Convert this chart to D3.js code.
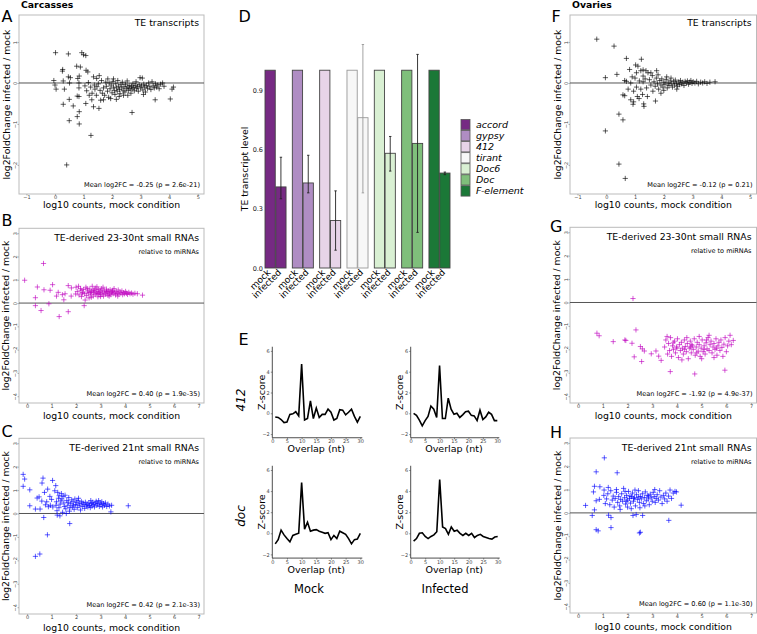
<!DOCTYPE html>
<html>
<head>
<meta charset="utf-8">
<script src="https://cdn.jsdelivr.net/npm/d3@7"></script>
<style>
  body { margin: 0; background: #fff; }
  svg { display: block; font-family: "DejaVu Sans", sans-serif; }
</style>
</head>
<body>
<svg id="fig" width="757" height="634"></svg>
<script>
// ---- scatter data: [log10 counts mock, log2FC infected/mock] ----
const carcTE = [
  [0.02,0.74],[0.47,0.71],[0.94,0.74],[1.0,0.69],[1.08,0.67],[0.27,0.33],[0.26,0.29],[0.76,0.41],[0.89,0.39],
  [1.09,0.31],[1.15,0.27],[0.47,0.15],[0.54,0.13],[0.85,0.17],[0.8,0.11],[1.46,0.11],[-0.04,0.06],[0.0,-0.05],
  [0.04,-0.15],[0.29,0.05],[0.33,-0.15],[0.51,0.0],[0.84,0.0],[0.84,-0.12],[1.05,-0.07],[1.11,-0.19],[1.17,0.01],
  [1.25,-0.1],[1.38,-0.05],[1.47,-0.09],[0.5,-0.4],[0.29,-0.52],[0.64,-0.56],[0.78,-0.32],[0.84,-0.33],[0.78,-0.82],
  [0.85,-0.7],[0.5,-0.92],[0.85,-1.0],[1.26,-1.28],[0.41,-2.0],[1.08,-0.5],[1.29,-0.41],[1.35,-0.58],[1.54,-0.62],
  [1.7,-0.41],[2.7,-0.72],[3.51,-0.41],[4.04,-0.39],[4.15,-0.1],[4.1,-0.15],[1.6,-0.42],[1.95,-0.38],[2.25,-0.33],
  [2.4,-0.3],[1.45,-0.3],[1.3,-0.25],[1.35,0.15],[1.55,0.18],[1.4,-0.15],[1.2,-0.3],[2.15,-0.4],[3.1,-0.28],
  [2.55,-0.3],[1.85,0.1],[2.05,0.1],[1.52,-0.02],[1.58,-0.18],[1.63,0.06],[1.66,-0.25],[1.7,-0.12],[1.74,-0.3],
  [1.78,0.02],[1.8,-0.08],[1.84,-0.2],[1.88,-0.35],[1.9,0.0],[1.93,-0.14],[1.97,-0.05],[2.0,-0.24],[2.03,0.04],
  [2.05,-0.1],[2.08,-0.18],[2.1,-0.28],[2.13,-0.02],[2.16,-0.12],[2.18,-0.2],[2.2,0.06],[2.23,-0.08],[2.26,-0.16],
  [2.28,-0.26],[2.31,-0.04],[2.34,-0.12],[2.36,0.02],[2.39,-0.19],[2.42,-0.09],[2.45,-0.22],[2.47,-0.03],[2.5,-0.14],
  [2.53,0.05],[2.55,-0.1],[2.58,-0.18],[2.6,-0.06],[2.63,-0.13],[2.66,-0.25],[2.68,-0.08],[2.7,-0.15],[2.73,-0.02],
  [2.76,-0.11],[2.78,-0.19],[2.81,-0.06],[2.84,0.03],[2.86,-0.14],[2.89,-0.09],[2.92,-0.2],[2.95,-0.04],[2.98,0.13],
  [3.0,-0.12],[3.03,-0.07],[3.06,0.12],[3.08,-0.17],[3.11,-0.03],[3.14,-0.1],[3.17,-0.22],[3.2,-0.06],[3.24,-0.13],
  [3.28,0.0],[3.32,-0.09],[3.36,-0.16],[3.4,0.03],[3.44,-0.07],[3.48,-0.12],[3.52,-0.02],[3.56,-0.1],[3.6,-0.05],
  [3.65,-0.14],[3.7,-0.03],[3.77,0.0],[3.82,-0.08]
];
const carcPi = [
  [-0.1,0.98],[0.67,1.7],[0.42,0.69],[0.34,0.23],[0.34,-0.11],[0.57,-0.32],[0.69,0.57],[0.94,0.55],[0.89,-0.03],
  [1.04,0.79],[1.27,0.46],[1.31,-0.58],[1.44,0.36],[1.5,0.14],[1.68,-0.37],[1.68,0.75],[1.81,0.65],[1.98,0.39],
  [2.33,-0.11],[2.37,0.13],[1.55,0.4],[1.2,0.3],[2.0,0.68],[1.8,0.3],[2.1,0.72],[2.2,0.55],[2.05,0.5],[2.12,0.35],
  [2.18,0.62],[2.22,0.28],[2.27,0.45],[2.3,0.58],[2.35,0.4],[2.4,0.68],[2.43,0.32],[2.47,0.52],[2.5,0.44],[2.53,0.22],
  [2.56,0.6],[2.6,0.38],[2.63,0.5],[2.66,0.72],[2.7,0.3],[2.72,0.46],[2.75,0.56],[2.78,0.38],[2.8,0.64],[2.83,0.42],
  [2.86,0.5],[2.89,0.27],[2.92,0.58],[2.95,0.45],[2.98,0.36],[3.0,0.52],[3.03,0.62],[3.06,0.4],[3.09,0.48],[3.12,0.3],
  [3.15,0.55],[3.18,0.43],[3.21,0.38],[3.24,0.6],[3.27,0.47],[3.3,0.33],[3.33,0.52],[3.36,0.42],[3.39,0.57],[3.42,0.36],
  [3.45,0.46],[3.48,0.5],[3.51,0.4],[3.55,0.62],[3.58,0.44],[3.61,0.35],[3.64,0.5],[3.68,0.42],[3.72,0.56],[3.75,0.38],
  [3.79,0.47],[3.83,0.43],[3.87,0.52],[3.9,0.36],[3.94,0.45],[3.98,0.4],[4.02,0.5],[4.06,0.42],[4.1,0.37],[4.15,0.46],
  [4.2,0.4],[4.26,0.43],[4.32,0.38],[4.4,0.42],[4.5,0.4],[4.71,0.34],[2.58,0.45],[2.9,0.4],[3.1,0.68],[2.45,0.62],
  [2.7,0.55],[3.35,0.3],[3.0,0.28],[2.25,0.42],[2.85,0.7],[3.5,0.55],[3.7,0.3],[2.62,0.25],[3.25,0.5]
];
const carcSi = [
  [-0.16,1.67],[-0.1,1.47],[-0.16,1.16],[0.11,1.01],[0.11,0.33],[0.34,0.19],[0.41,0.66],[0.49,0.71],[0.6,0.53],
  [0.61,1.3],[0.65,1.51],[0.71,0.9],[0.75,0.37],[0.68,-0.17],[0.53,0.19],[0.84,1.04],[0.93,0.73],[0.87,0.29],
  [0.83,-0.91],[0.34,-1.83],[0.52,-1.73],[1.04,1.41],[1.17,1.19],[1.13,0.97],[1.23,-0.07],[1.34,-0.1],[1.74,-0.43],
  [1.31,0.76],[1.47,0.73],[1.38,0.54],[0.8,0.5],[1.0,0.6],[0.95,0.35],[1.25,0.9],[1.2,0.5],[1.3,0.25],[1.42,0.62],
  [1.5,0.45],[1.55,0.78],[1.58,0.2],[1.62,0.55],[1.66,0.35],[1.7,0.68],[1.73,0.1],[1.78,0.42],[1.82,0.58],[1.85,0.28],
  [1.88,0.5],[1.92,0.18],[1.95,0.62],[1.98,0.38],[2.02,0.48],[2.05,0.25],[2.08,0.55],[2.12,0.35],[2.15,0.42],[2.18,0.15],
  [2.22,0.5],[2.25,0.3],[2.28,0.45],[2.32,0.38],[2.35,0.22],[2.38,0.48],[2.42,0.33],[2.45,0.4],[2.48,0.28],[2.52,0.45],
  [2.55,0.35],[2.58,0.25],[2.62,0.42],[2.65,0.32],[2.68,0.48],[2.72,0.38],[2.75,0.28],[2.78,0.45],[2.82,0.52],[2.85,0.35],
  [2.88,0.42],[2.92,0.55],[2.95,0.3],[2.98,0.45],[3.02,0.38],[3.05,0.5],[3.08,0.28],[3.12,0.42],[3.16,0.35],[3.2,0.45],
  [3.25,0.3],[3.3,0.4],[3.36,0.32],[3.42,0.07],[3.45,0.35],[4.13,0.33],[1.45,0.05],[1.6,0.0],[1.35,0.4],[1.52,0.3],
  [1.68,0.48],[1.9,0.35],[2.1,0.65],[1.75,0.25],[1.28,0.65],[1.18,0.35],[1.22,0.12],[2.6,0.55],[1.05,0.28],[1.4,0.85]
];
const ovTE = [
  [-0.33,1.07],[0.27,0.9],[-0.03,0.13],[0.37,0.21],[-0.03,-1.17],[0.44,-0.76],[0.58,-0.9],[0.44,-1.98],[0.66,-2.33],
  [0.7,0.6],[1.22,0.58],[1.02,0.44],[1.1,0.41],[0.81,0.33],[1.28,0.32],[1.38,0.3],[0.64,0.06],[0.7,0.04],[0.58,-0.29],
  [0.64,-0.31],[0.76,-0.15],[0.85,-0.41],[0.93,-0.52],[0.95,-0.46],[1.08,-0.33],[1.14,-0.38],[1.3,-0.51],[1.31,-0.57],
  [1.43,-0.33],[1.26,-0.28],[1.71,-0.44],[1.28,0.17],[1.45,0.25],[1.28,0.03],[0.9,0.15],[1.0,0.12],[1.05,-0.1],
  [0.95,-0.2],[1.15,0.05],[1.2,-0.15],[1.35,0.1],[1.4,-0.12],[1.5,0.08],[1.55,-0.05],[1.6,0.18],[1.62,-0.2],[1.66,0.03],
  [1.7,-0.08],[1.74,0.12],[1.78,-0.02],[1.82,-0.15],[1.86,0.06],[1.9,-0.05],[1.93,0.1],[1.97,-0.1],[2.0,0.02],[2.04,-0.03],
  [2.08,0.08],[2.12,-0.12],[2.15,0.0],[2.18,-0.06],[2.22,0.05],[2.26,-0.02],[2.3,-0.1],[2.34,0.04],[2.37,-0.05],[2.4,0.07],
  [2.44,-0.01],[2.48,-0.08],[2.52,0.03],[2.55,-0.04],[2.58,0.06],[2.62,-0.02],[2.66,0.02],[2.7,-0.06],[2.74,0.04],[2.78,0.0],
  [2.82,0.05],[2.86,-0.03],[2.9,0.02],[2.94,0.06],[2.98,-0.01],[3.02,0.03],[3.08,0.0],[3.14,0.04],[3.2,-0.02],[3.28,0.02],
  [3.35,0.0],[3.42,0.03],[3.5,-0.01],[3.6,0.02],[3.78,0.03],[1.75,0.3],[1.55,0.25],[1.2,0.3],[1.9,-0.25],[2.1,0.15],
  [1.8,0.2],[2.0,-0.18],[2.45,-0.15],[2.25,0.12],[1.05,0.25],[0.85,0.0]
];
const ovPi = [
  [2.22,0.17],[0.76,-1.31],[0.85,-1.42],[1.42,-1.67],[1.89,-1.6],[1.93,-1.62],[2.18,-1.74],[2.34,-1.17],[2.27,-2.32],
  [2.52,-1.88],[2.6,-1.98],[2.57,-2.52],[2.68,-2.07],[2.96,-2.19],[3.15,-2.07],[3.26,-2.29],[3.36,-2.47],[3.73,-2.95],
  [4.72,-3.05],[5.94,-2.89],[3.5,-1.9],[3.55,-1.6],[3.62,-2.2],[3.66,-1.75],[3.7,-2.05],[3.74,-1.5],[3.78,-2.3],
  [3.82,-1.85],[3.86,-2.0],[3.9,-1.65],[3.94,-2.15],[3.98,-1.9],[4.02,-1.55],[4.06,-2.35],[4.1,-1.8],[4.14,-2.05],
  [4.18,-1.7],[4.22,-1.95],[4.26,-2.2],[4.3,-1.6],[4.34,-1.88],[4.38,-2.1],[4.42,-1.75],[4.46,-2.4],[4.5,-1.95],
  [4.54,-1.65],[4.58,-2.15],[4.62,-1.85],[4.66,-2.0],[4.7,-1.55],[4.74,-2.25],[4.78,-1.9],[4.82,-1.7],[4.86,-2.08],
  [4.9,-1.8],[4.94,-2.3],[4.98,-1.95],[5.02,-1.6],[5.06,-2.1],[5.1,-1.85],[5.14,-2.2],[5.18,-1.72],[5.22,-1.98],
  [5.26,-1.5],[5.3,-2.05],[5.34,-1.8],[5.38,-1.65],[5.42,-2.15],[5.46,-1.9],[5.5,-1.75],[5.54,-2.0],[5.58,-1.55],
  [5.62,-2.25],[5.66,-1.85],[5.7,-1.7],[5.74,-2.05],[5.78,-1.6],[5.82,-1.92],[5.86,-2.3],[5.9,-1.78],[5.95,-1.5],
  [6.0,-2.1],[6.05,-1.85],[6.1,-1.65],[6.15,-1.4],[6.2,-1.8],[6.28,-1.62],[4.4,-1.5],[4.9,-1.45],[5.3,-1.4],[4.2,-2.45],
  [5.0,-2.4],[5.5,-2.35],[3.6,-1.45],[4.6,-1.8],[4.8,-2.15],[5.2,-1.6],[4.0,-1.95],[4.3,-2.0],[5.6,-1.95],[4.55,-1.9],
  [5.1,-2.0],[3.85,-1.72]
];
const ovSi = [
  [1.06,2.36],[0.73,1.76],[1.58,1.72],[0.3,0.32],[0.57,-0.11],[0.66,0.13],[0.73,-0.72],[0.81,-0.77],[1.33,-0.63],
  [1.23,-0.1],[1.33,-0.2],[2.48,-0.86],[2.52,-0.83],[2.22,-0.11],[2.35,-0.07],[2.61,-0.11],[3.67,-0.32],[4.17,0.33],
  [0.66,1.14],[0.88,1.12],[1.05,0.98],[0.62,0.9],[0.73,0.52],[0.86,0.58],[1.1,0.4],[1.04,0.75],[1.22,1.09],[1.15,0.6],
  [1.2,0.82],[1.28,0.35],[1.32,0.95],[1.38,0.55],[1.42,0.72],[1.46,0.25],[1.5,0.62],[1.55,0.88],[1.6,0.45],[1.64,0.7],
  [1.68,0.3],[1.72,0.58],[1.76,0.82],[1.8,0.5],[1.84,1.05],[1.88,0.65],[1.92,0.38],[1.96,0.75],[2.0,0.55],[2.04,0.92],
  [2.08,0.62],[2.12,0.42],[2.16,0.7],[2.2,0.85],[2.24,0.5],[2.28,0.65],[2.32,0.3],[2.36,0.78],[2.4,0.58],[2.44,0.95],
  [2.48,0.45],[2.52,0.7],[2.56,0.6],[2.6,0.82],[2.64,0.4],[2.68,0.66],[2.72,0.9],[2.76,0.52],[2.8,0.75],[2.84,0.6],
  [2.88,0.35],[2.92,0.8],[2.96,0.65],[3.0,0.5],[3.04,0.88],[3.08,0.7],[3.12,0.45],[3.16,0.62],[3.2,0.78],[3.25,0.55],
  [3.3,0.95],[3.35,0.68],[3.4,0.4],[3.45,0.75],[3.5,0.6],[3.55,0.85],[3.6,0.5],[3.66,0.72],[3.72,0.98],[3.78,0.62],
  [3.85,0.85],[3.92,0.92],[3.98,0.9],[2.15,0.18],[2.5,0.22],[1.7,0.15],[1.9,0.92],[2.3,0.98],[2.0,0.25],[2.7,0.3],
  [1.55,1.0],[3.1,1.0],[2.45,0.68],[2.1,0.72],[2.25,0.62],[1.95,0.5],[2.85,0.72]
];

// ---- panel D: TE transcript level ----
const teNames = ['accord', 'gypsy', '412', 'tirant', 'Doc6', 'Doc', 'F-element'];
const teColors = ['#762a83', '#af8dc3', '#e7d4e8', '#f7f7f7', '#d9f0d3', '#7fbf7b', '#1b7837'];
const conditions = ['mock', 'infected'];
const mockLevel = [1, 1, 1, 1, 1, 1, 1];
const infectedLevel = [0.41, 0.43, 0.24, 0.76, 0.58, 0.63, 0.48];
const infectedLow = [0.35, 0.38, 0.09, 0.38, 0.49, 0.18, 0.472];
const infectedHigh = [0.56, 0.57, 0.39, 1.13, 0.665, 1.08, 0.485];
const levelTicks = [0, 0.3, 0.6, 0.9];

// ---- panel E: ping-pong overlap z-scores ----
const overlapNt = [1,2,3,4,5,6,7,8,9,10,11,12,13,14,15,16,17,18,19,20,21,22,23,24,25,26,27,28,29,30];
const z412Mock = [-0.35,-0.4,-0.6,-0.9,-0.85,-0.1,-0.05,0.15,-0.25,4.73,-0.65,-0.5,1.2,-0.5,0.5,-0.4,-0.1,-0.1,0.4,0.1,-0.65,-0.5,0.35,0.3,-0.15,0.1,0.4,-0.3,-0.85,-0.3];
const z412Inf = [0,-0.2,-0.65,-1.2,-0.7,-0.3,0.7,0.4,-0.4,4.6,-0.5,-0.5,1.45,0.4,-0.1,0,-0.4,-0.15,0.15,0.2,-0.2,-0.25,-0.7,0.3,-0.6,-0.35,0.1,-0.1,-0.7,-0.7];
const zDocMock = [-1.0,-0.6,0.3,-0.15,-0.5,-0.8,-0.2,-0.1,0,4.8,0.4,1.05,0.2,0.3,0.35,0.2,0.1,0,0.05,-0.6,-0.2,-0.5,0.2,0.05,-0.1,-0.5,-1.0,-0.6,-0.55,0];
const zDocInf = [-0.75,-0.5,0,0.05,-0.3,-0.5,-0.3,-0.15,0.15,5.1,0.6,0.45,-0.1,0.6,0.2,0.3,0,-0.2,0,-0.2,0,-0.4,-0.2,-0.1,-0.3,-0.4,-0.5,-0.55,-0.35,-0.3];
const zTicks = [-2, 0, 2, 4, 6];
const overlapTicks = [0, 5, 10, 15, 20, 25, 30];

const svg = d3.select('#fig');

const addText = (x, y, str, size, opts = {}) =>
  svg
    .append('text')
    .attr('x', x)
    .attr('y', y)
    .attr('text-anchor', opts.anchor || 'start')
    .attr('font-size', size)
    .attr('font-weight', opts.weight || 'normal')
    .attr('font-style', opts.style || 'normal')
    .attr('fill', opts.fill || '#000')
    .attr('transform', opts.rotate ? `rotate(${opts.rotate},${x},${y})` : null)
    .text(str);

// ---------- scatter panels ----------
const scatterPanel = (p) => {
  const x = d3.scaleLinear().domain(p.xDomain).range([p.left, p.right]);
  const y = d3.scaleLinear().domain(p.yDomain).range([p.bottom, p.top]);
  const g = svg.append('g');

  g.append('rect')
    .attr('x', p.left)
    .attr('y', p.top)
    .attr('width', p.right - p.left)
    .attr('height', p.bottom - p.top)
    .attr('fill', 'none')
    .attr('stroke', '#bbb')
    .attr('stroke-width', 1);

  const xAxis = d3.axisBottom(x).tickValues(p.xTicks).tickSize(1.5).tickPadding(0.3).tickFormat(d3.format('d'));
  g.append('g')
    .attr('transform', `translate(0,${p.bottom})`)
    .call(xAxis)
    .call((a) => {
      a.select('.domain').remove();
      a.selectAll('line').attr('stroke', '#888').attr('stroke-width', 0.6);
      a.selectAll('text').attr('font-size', 5).attr('fill', '#444').attr('font-family', 'DejaVu Sans');
    });

  const yAxis = d3.axisLeft(y).tickValues(p.yTicks).tickSize(1.5).tickFormat(d3.format('d'));
  g.append('g')
    .attr('transform', `translate(${p.left},0)`)
    .call(yAxis)
    .call((a) => {
      a.select('.domain').remove();
      a.selectAll('line').attr('stroke', '#888').attr('stroke-width', 0.6);
      a.selectAll('text')
        .attr('x', 0)
        .attr('dy', 0)
        .attr('text-anchor', 'middle')
        .attr('transform', 'translate(-1.6,0) rotate(-90)')
        .attr('font-size', 5)
        .attr('fill', '#444')
        .attr('font-family', 'DejaVu Sans');
    });

  g.append('line')
    .attr('x1', p.left)
    .attr('x2', p.right)
    .attr('y1', y(0))
    .attr('y2', y(0))
    .attr('stroke', '#555')
    .attr('stroke-width', 1);

  g.selectAll('path.pt')
    .data(p.data)
    .join('path')
    .attr('class', 'pt')
    .attr('d', 'M-2.6,0H2.6M0,-2.6V2.6')
    .attr('transform', (d) => `translate(${x(d[0])},${y(d[1])})`)
    .attr('stroke', p.color)
    .attr('stroke-opacity', p.alpha)
    .attr('stroke-width', 0.9)
    .attr('fill', 'none');

  addText(p.right - 5, p.top + p.titleDy, p.title, 9.3, { anchor: 'end' });
  if (p.sub) addText(p.right - 5, p.top + 26, p.sub, 6.5, { anchor: 'end' });
  addText(p.right - 4, p.bottom - 7, p.mean, 6.6, { anchor: 'end' });

  addText((p.left + p.right) / 2, p.bottom + p.xlabDy, 'log10 counts, mock condition', 9.3, { anchor: 'middle' });
  addText(p.ylabX, (p.top + p.bottom) / 2, 'log2FoldChange infected / mock', 9.3, { anchor: 'middle', rotate: -90 });
  addText(p.letterX, p.letterY, p.letter, 16);
};

const teDomainX = [-1.26, 5.22];
const teDomainY = [-2.71, 1.66];
const srDomainX = [-0.33, 7.22];
const srDomainY = [-4.29, 3.21];

scatterPanel({ left: 19, right: 204, top: 15, bottom: 194, xDomain: teDomainX, yDomain: teDomainY,
  xTicks: [-1, 0, 1, 2, 3, 4, 5], yTicks: [1, 0, -1, -2], data: carcTE, color: '#000', alpha: 0.7,
  title: 'TE transcripts', titleDy: 10.5, mean: 'Mean log2FC = -0.25 (p = 2.6e-21)',
  xlabDy: 14.3, ylabX: 9.5, letter: 'A', letterX: 1.5, letterY: 21.7 });
scatterPanel({ left: 19, right: 204, top: 228.3, bottom: 403, xDomain: srDomainX, yDomain: srDomainY,
  xTicks: [0, 1, 2, 3, 4, 5, 6, 7], yTicks: [3, 2, 1, 0, -1, -2, -3, -4], data: carcPi, color: '#bf00bf', alpha: 0.7,
  title: 'TE-derived 23-30nt small RNAs', titleDy: 13, sub: 'relative to miRNAs', mean: 'Mean log2FC = 0.40 (p = 1.9e-35)',
  xlabDy: 16.3, ylabX: 9.5, letter: 'B', letterX: 1.5, letterY: 226 });
scatterPanel({ left: 19, right: 204, top: 438.3, bottom: 614, xDomain: srDomainX, yDomain: srDomainY,
  xTicks: [0, 1, 2, 3, 4, 5, 6, 7], yTicks: [3, 2, 1, 0, -1, -2, -3, -4], data: carcSi, color: '#0000ff', alpha: 0.7,
  title: 'TE-derived 21nt small RNAs', titleDy: 13, sub: 'relative to miRNAs', mean: 'Mean log2FC = 0.42 (p = 2.1e-33)',
  xlabDy: 17, ylabX: 9.5, letter: 'C', letterX: 1.5, letterY: 436.7 });
scatterPanel({ left: 570, right: 756.5, top: 15, bottom: 194, xDomain: teDomainX, yDomain: teDomainY,
  xTicks: [-1, 0, 1, 2, 3, 4, 5], yTicks: [1, 0, -1, -2], data: ovTE, color: '#000', alpha: 0.7,
  title: 'TE transcripts', titleDy: 10.5, mean: 'Mean log2FC = -0.12 (p = 0.21)',
  xlabDy: 14.3, ylabX: 560.5, letter: 'F', letterX: 551.5, letterY: 21.7 });
scatterPanel({ left: 570, right: 756.5, top: 227.3, bottom: 403, xDomain: srDomainX, yDomain: srDomainY,
  xTicks: [0, 1, 2, 3, 4, 5, 6, 7], yTicks: [3, 2, 1, 0, -1, -2, -3, -4], data: ovPi, color: '#bf00bf', alpha: 0.7,
  title: 'TE-derived 23-30nt small RNAs', titleDy: 13, sub: 'relative to miRNAs', mean: 'Mean log2FC = -1.92 (p = 4.9e-37)',
  xlabDy: 16.3, ylabX: 560.5, letter: 'G', letterX: 550, letterY: 231.7 });
scatterPanel({ left: 570, right: 756.5, top: 438, bottom: 613, xDomain: srDomainX, yDomain: srDomainY,
  xTicks: [0, 1, 2, 3, 4, 5, 6, 7], yTicks: [3, 2, 1, 0, -1, -2, -3, -4], data: ovSi, color: '#0000ff', alpha: 0.7,
  title: 'TE-derived 21nt small RNAs', titleDy: 13, sub: 'relative to miRNAs', mean: 'Mean log2FC = 0.60 (p = 1.1e-30)',
  xlabDy: 17, ylabX: 560.5, letter: 'H', letterX: 550, letterY: 438.3 });

addText(21, 8, 'Carcasses', 9.3, { weight: 'bold' });
addText(572, 8, 'Ovaries', 9.3, { weight: 'bold' });

// ---------- panel D ----------
const dGroup = d3.scaleBand().domain(teNames).range([265, 450]).paddingInner(0.23);
const dSub = d3.scaleBand().domain(conditions).range([0, dGroup.bandwidth()]).paddingInner(0.05);
const dY = d3.scaleLinear().domain([0, 0.9]).range([268, 90]);

const dRows = [];
teNames.forEach((te, i) => {
  dRows.push({ te, cond: 'mock', v: mockLevel[i], color: teColors[i] });
  dRows.push({ te, cond: 'infected', v: infectedLevel[i], lo: infectedLow[i], hi: infectedHigh[i], color: teColors[i] });
});

const dg = svg.append('g');
dg.selectAll('rect.bar')
  .data(dRows)
  .join('rect')
  .attr('class', 'bar')
  .attr('x', (d) => dGroup(d.te) + dSub(d.cond))
  .attr('y', (d) => dY(d.v))
  .attr('width', dSub.bandwidth())
  .attr('height', (d) => dY(0) - dY(d.v))
  .attr('fill', (d) => d.color)
  .attr('stroke', (d) => (d.te === 'tirant' ? '#999' : '#444'))
  .attr('stroke-width', 0.9);

const errRows = dRows.filter((d) => d.cond === 'infected');
const errX = (d) => dGroup(d.te) + dSub('infected') + dSub.bandwidth() / 2;
const errColor = (d) => (d.te === 'tirant' ? '#999' : '#222');
dg.selectAll('line.err')
  .data(errRows)
  .join('line')
  .attr('class', 'err')
  .attr('x1', errX)
  .attr('x2', errX)
  .attr('y1', (d) => dY(d.lo))
  .attr('y2', (d) => dY(d.hi))
  .attr('stroke', errColor)
  .attr('stroke-width', 0.9);
['lo', 'hi'].forEach((k) => {
  dg.selectAll(`line.cap-${k}`)
    .data(errRows)
    .join('line')
    .attr('class', `cap-${k}`)
    .attr('x1', (d) => errX(d) - 1.2)
    .attr('x2', (d) => errX(d) + 1.2)
    .attr('y1', (d) => dY(d[k]))
    .attr('y2', (d) => dY(d[k]))
    .attr('stroke', errColor)
    .attr('stroke-width', 0.9);
});

const dAxis = d3.axisLeft(dY).tickValues(levelTicks).tickSize(0).tickPadding(0).tickFormat(d3.format('.1f'));
dg.append('g')
  .attr('transform', 'translate(263,0)')
  .call(dAxis)
  .call((a) => {
    a.select('.domain').remove();
    a.selectAll('text').attr('font-size', 6.5).attr('fill', '#222').attr('font-family', 'DejaVu Sans');
  });

dRows.forEach((d) => {
  const cx = dGroup(d.te) + dSub(d.cond) + dSub.bandwidth() / 2 + 1;
  addText(cx, 273, d.cond, 9, { anchor: 'end', rotate: -45 });
});

addText(247.5, 169, 'TE transcript level', 9.3, { anchor: 'middle', rotate: -90 });
addText(238.5, 22, 'D', 16);

const legend = dg.append('g').attr('transform', 'translate(461,119.5)');
legend.selectAll('rect')
  .data(teNames)
  .join('rect')
  .attr('x', 0)
  .attr('y', (d, i) => i * 11.05)
  .attr('width', 9)
  .attr('height', 10.3)
  .attr('fill', (d, i) => teColors[i])
  .attr('stroke', '#555')
  .attr('stroke-width', 0.8);
legend.selectAll('text')
  .data(teNames)
  .join('text')
  .attr('x', 15)
  .attr('y', (d, i) => i * 11.05 + 8.6)
  .attr('font-size', 9.5)
  .attr('font-style', 'italic')
  .text((d) => d);

// ---------- panel E ----------
const zPanel = (xL, xR, yZero, unit, vals) => {
  const x = d3.scaleLinear().domain([0, 30]).range([xL, xR]);
  const y = d3.scaleLinear().domain([0, 6]).range([yZero, yZero - 6 * unit]);
  const g = svg.append('g');
  const yBot = y(-2.35);
  g.append('line').attr('x1', xL).attr('x2', xL).attr('y1', y(6.4)).attr('y2', yBot).attr('stroke', '#222').attr('stroke-width', 0.8);
  g.append('line').attr('x1', xL).attr('x2', xR + 2).attr('y1', yBot).attr('y2', yBot).attr('stroke', '#222').attr('stroke-width', 0.8);

  g.append('g')
    .attr('transform', `translate(0,${yBot})`)
    .call(d3.axisBottom(x).tickValues(overlapTicks).tickSize(1.5).tickPadding(0.5))
    .call((a) => {
      a.select('.domain').remove();
      a.selectAll('line').attr('stroke', '#444').attr('stroke-width', 0.6);
      a.selectAll('text').attr('font-size', 5).attr('fill', '#444').attr('font-family', 'DejaVu Sans');
    });
  g.append('g')
    .attr('transform', `translate(${xL},0)`)
    .call(d3.axisLeft(y).tickValues(zTicks).tickSize(1.5).tickPadding(1).tickFormat(d3.format('d')))
    .call((a) => {
      a.select('.domain').remove();
      a.selectAll('line').attr('stroke', '#444').attr('stroke-width', 0.6);
      a.selectAll('text').attr('font-size', 5).attr('fill', '#444').attr('font-family', 'DejaVu Sans');
    });

  const line = d3.line().x((d, i) => x(overlapNt[i])).y((d) => y(d));
  g.append('path')
    .attr('d', line(vals))
    .attr('fill', 'none')
    .attr('stroke', '#000')
    .attr('stroke-width', 1.6)
    .attr('stroke-linejoin', 'miter');

  addText((xL + xR) / 2, yBot + 14.5, 'Overlap (nt)', 9.5, { anchor: 'middle' });
  addText(xL - 7.5, (y(6.4) + yBot) / 2, 'Z-score', 9.5, { anchor: 'middle', rotate: -90 });
};

zPanel(272.3, 360.3, 413.3, 10.4, z412Mock);
zPanel(410.7, 497.3, 413.3, 10.4, z412Inf);
zPanel(272.3, 360.3, 533.3, 10.55, zDocMock);
zPanel(410.7, 497.7, 533.3, 10.55, zDocInf);

addText(238.5, 345, 'E', 16);
addText(245, 400, '412', 12, { anchor: 'middle', style: 'italic', rotate: -90 });
addText(245, 516, 'doc', 12, { anchor: 'middle', style: 'italic', rotate: -90 });
addText(309, 593, 'Mock', 11.5, { anchor: 'middle' });
addText(445, 593, 'Infected', 11.5, { anchor: 'middle' });
</script>
</body>
</html>
